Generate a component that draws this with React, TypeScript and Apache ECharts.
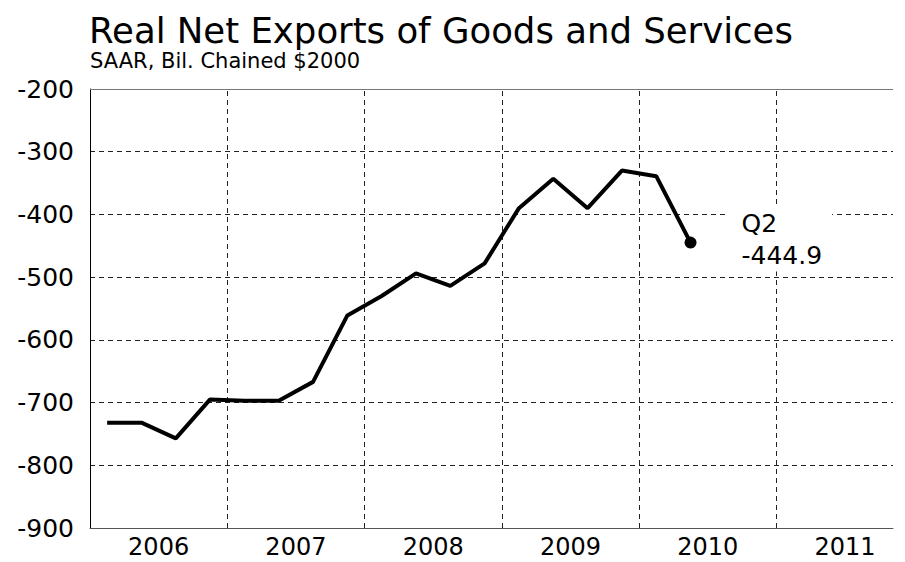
import React, { useEffect, useRef } from "react";
import * as echarts from "echarts";

const quarters = [
  "2006Q1", "2006Q2", "2006Q3", "2006Q4",
  "2007Q1", "2007Q2", "2007Q3", "2007Q4",
  "2008Q1", "2008Q2", "2008Q3", "2008Q4",
  "2009Q1", "2009Q2", "2009Q3", "2009Q4",
  "2010Q1", "2010Q2",
];
const netExports = [
  -732, -732, -757, -695,
  -697, -697, -667, -561,
  -530, -494, -514, -478,
  -390, -343, -390, -330,
  -339, -444.9,
];
const yearLabels = ["2006", "2007", "2008", "2009", "2010", "2011"];
const yearCenters = [2, 6, 10, 14, 18, 22];
const yearBoundaries = [4, 8, 12, 16, 20];

export default function App() {
  const ref = useRef<HTMLDivElement>(null);
  useEffect(() => {
    if (!ref.current) return;
    const chart = echarts.init(ref.current, null, { renderer: "svg" });
    const font = "DejaVu Sans";
    const last = netExports.length - 1;
    const dash = [5, 4];
    const data = netExports.map((v, i) => {
      const p: any = { value: [i + 0.5, v], name: quarters[i] };
      if (i === last) {
        p.symbol = "circle";
        p.symbolSize = 12;
        p.label = {
          show: true,
          position: "right",
          offset: [24, -3],
          formatter: "Q2\n" + v.toFixed(1),
          fontSize: 25,
          lineHeight: 32,
          fontFamily: font,
          color: "#000",
          backgroundColor: "#fff",
          padding: [0, 10, 0, 16],
        };
      } else {
        p.symbol = "none";
      }
      return p;
    });
    chart.setOption({
      animation: false,
      backgroundColor: "#fff",
      title: [
        {
          text: "Real Net Exports of Goods and Services",
          left: 84,
          top: 7,
          textStyle: { fontSize: 35.5, fontWeight: "normal", color: "#000", fontFamily: font },
        },
        {
          text: "SAAR, Bil. Chained $2000",
          left: 85,
          top: 45,
          textStyle: { fontSize: 21, fontWeight: "normal", color: "#000", fontFamily: font },
        },
      ],
      grid: { left: 90, right: 12, top: 89, bottom: 34 },
      xAxis: {
        type: "value",
        min: 0,
        max: 23.4,
        axisLine: { show: true, lineStyle: { color: "#555", width: 1 } },
        axisTick: { show: false },
        axisLabel: {
          customValues: yearCenters,
          formatter: (v: number) => yearLabels[yearCenters.indexOf(v)] ?? "",
          fontSize: 24,
          lineHeight: 24,
          color: "#000",
          fontFamily: font,
          margin: 7,
        },
        splitLine: { show: false },
      },
      yAxis: {
        type: "value",
        min: -900,
        max: -200,
        interval: 100,
        axisLine: { show: true, onZero: false, lineStyle: { color: "#000", width: 1 } },
        axisTick: { show: false },
        axisLabel: { fontSize: 25, color: "#000", fontFamily: font, margin: 16 },
        splitLine: { show: true, lineStyle: { color: "#222", type: dash, width: 1 } },
      },
      series: [
        {
          type: "line",
          data,
          lineStyle: { color: "#000", width: 4 },
          itemStyle: { color: "#000" },
          markLine: {
            silent: true,
            symbol: "none",
            label: { show: false },
            lineStyle: { color: "#222", type: dash, width: 1 },
            data: [
              ...yearBoundaries.map((x) => ({ xAxis: x })),
              { yAxis: -200, lineStyle: { type: "solid", color: "#777", width: 1 } },
            ],
            z: 1,
          },
          z: 3,
        },
      ],
    });
    return () => chart.dispose();
  }, []);
  return <div ref={ref} style={{ width: 905, height: 562, position: "absolute", left: 0, top: 0 }} />;
}
